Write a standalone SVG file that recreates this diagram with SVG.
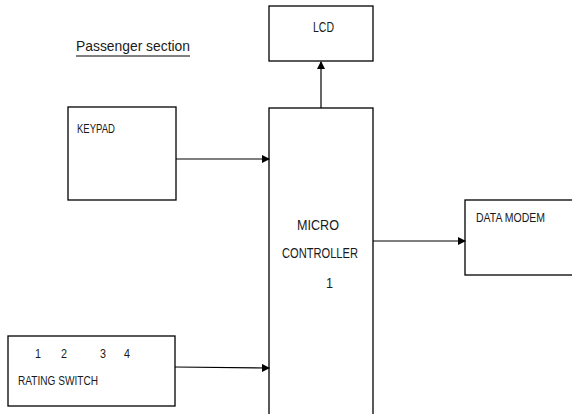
<svg xmlns="http://www.w3.org/2000/svg" width="572" height="414" viewBox="0 0 572 414">
<defs>
<marker id="ah" markerWidth="8" markerHeight="8" refX="7" refY="4" orient="auto" markerUnits="userSpaceOnUse">
<path d="M0,0 L8,4 L0,8 Z" fill="#000"/>
</marker>
<style>
.box{fill:#fff;stroke:#000;stroke-width:1.3}
.t{font-family:"Liberation Sans",Arial,sans-serif;fill:#1a1a1a}
.ln{stroke:#000;stroke-width:1.2;fill:none}
</style>
</defs>
<rect width="572" height="414" fill="#fff"/>
<text class="t" x="76" y="51" font-size="15" textLength="114" lengthAdjust="spacingAndGlyphs">Passenger section</text>
<line x1="76" y1="56" x2="190" y2="56" stroke="#000" stroke-width="1"/>
<g id="lcd">
<rect class="box" x="269" y="6" width="104" height="55"/>
<text class="t" x="313" y="32" font-size="14" textLength="21" lengthAdjust="spacingAndGlyphs">LCD</text>
</g>
<g id="keypad">
<rect class="box" x="68" y="107" width="108" height="93"/>
<text class="t" x="77" y="133" font-size="12.5" textLength="38" lengthAdjust="spacingAndGlyphs">KEYPAD</text>
</g>
<g id="microcontroller">
<rect class="box" x="269" y="108" width="104" height="320"/>
<text class="t" x="297" y="230" font-size="15" textLength="42" lengthAdjust="spacingAndGlyphs">MICRO</text>
<text class="t" x="282" y="258" font-size="15" textLength="76" lengthAdjust="spacingAndGlyphs">CONTROLLER</text>
<text class="t" x="326" y="288" font-size="15" textLength="7" lengthAdjust="spacingAndGlyphs">1</text>
</g>
<g id="datamodem">
<rect class="box" x="465" y="200" width="120" height="75"/>
<text class="t" x="476" y="222" font-size="13" textLength="69" lengthAdjust="spacingAndGlyphs">DATA MODEM</text>
</g>
<g id="ratingswitch">
<rect class="box" x="8" y="336" width="167" height="70"/>
<text class="t" x="35" y="358" font-size="12.5" textLength="6" lengthAdjust="spacingAndGlyphs">1</text>
<text class="t" x="61" y="358" font-size="12.5" textLength="6" lengthAdjust="spacingAndGlyphs">2</text>
<text class="t" x="100" y="358" font-size="12.5" textLength="6" lengthAdjust="spacingAndGlyphs">3</text>
<text class="t" x="124" y="358" font-size="12.5" textLength="6" lengthAdjust="spacingAndGlyphs">4</text>
<text class="t" x="18" y="385" font-size="13" textLength="80" lengthAdjust="spacingAndGlyphs">RATING SWITCH</text>
</g>
<g id="connectors">
<line class="ln" x1="321" y1="108" x2="321" y2="62" marker-end="url(#ah)"/>
<line class="ln" x1="176" y1="159" x2="269" y2="159" marker-end="url(#ah)"/>
<line class="ln" x1="373" y1="241" x2="465" y2="241" marker-end="url(#ah)"/>
<line class="ln" x1="175" y1="367" x2="269" y2="368" marker-end="url(#ah)"/>
</g>
</svg>
